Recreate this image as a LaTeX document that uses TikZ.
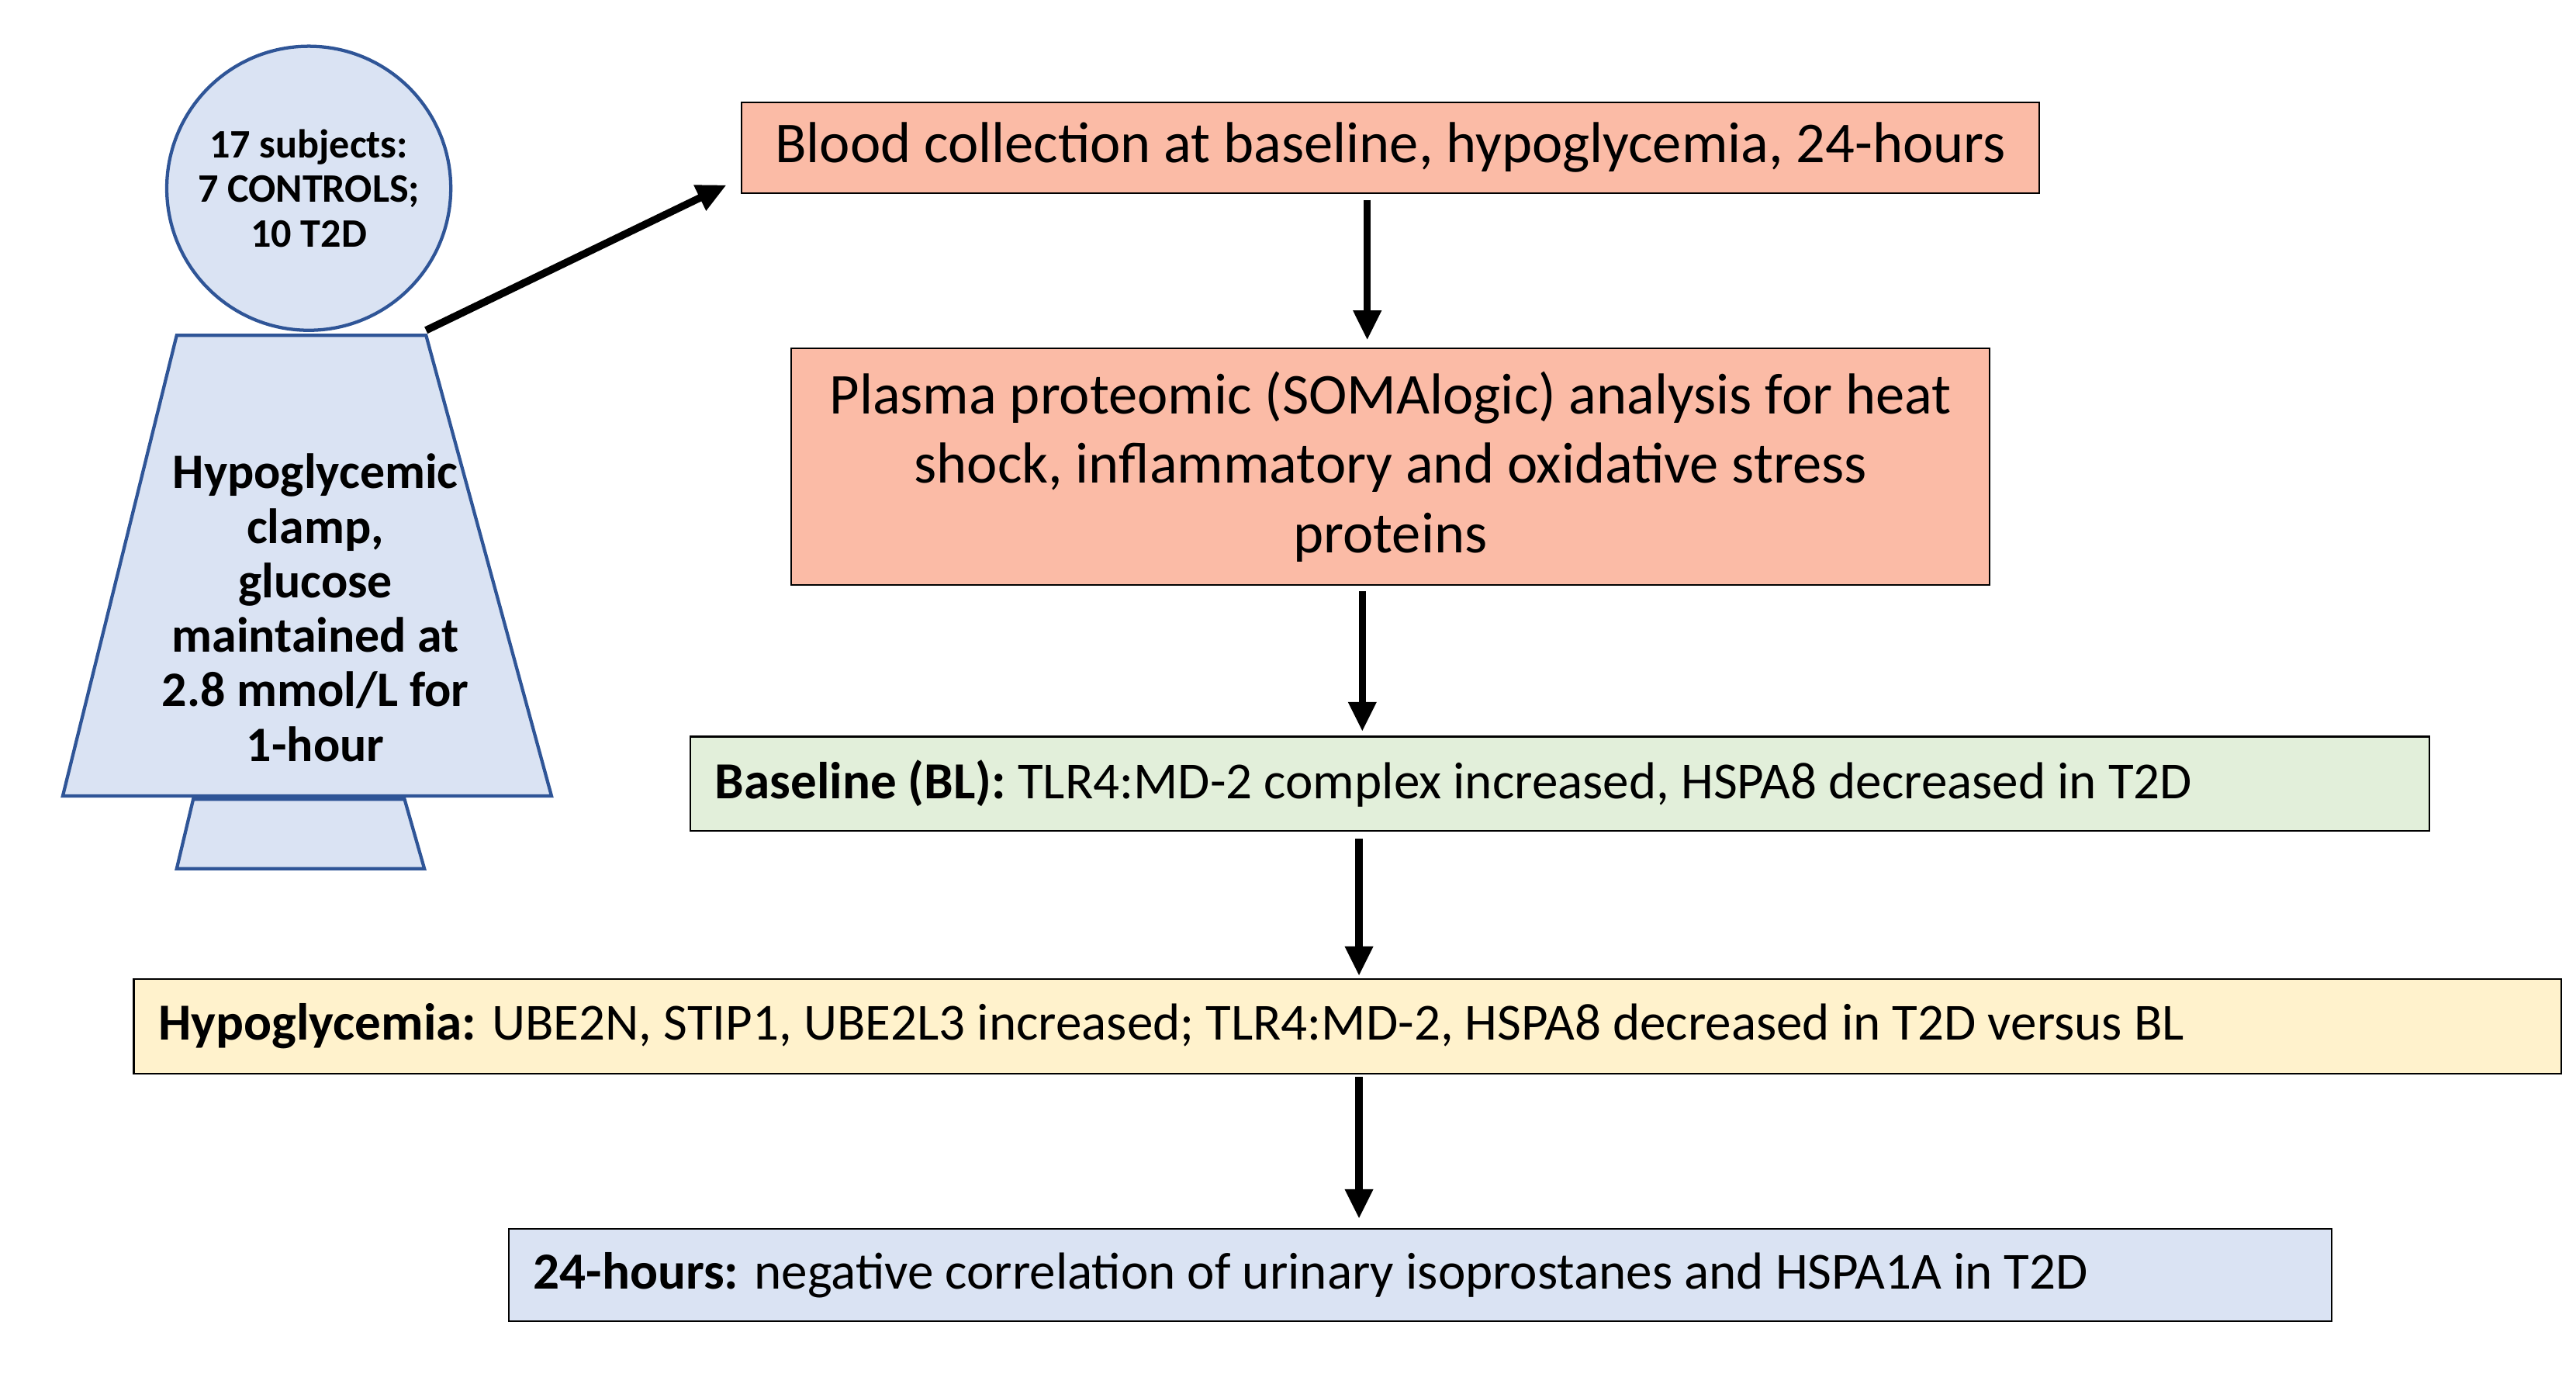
\documentclass[tikz,border=0pt]{standalone}
\usepackage{fontspec}
\setmainfont{Carlito}
\usetikzlibrary{arrows.meta}
\definecolor{salm}{HTML}{FBBBA6}
\definecolor{grn}{HTML}{E2EFDA}
\definecolor{yel}{HTML}{FFF2CC}
\definecolor{lblue}{HTML}{DAE3F3}
\definecolor{edgeb}{HTML}{2F5597}
\tikzset{
  box/.style={draw=black, line width=1pt, inner sep=0pt, font=\fontsize{35}{42}\selectfont},
  lbox/.style={box, font=\fontsize{31.5}{38}\selectfont},
  arr/.style={-{Triangle[length=18pt,width=16pt]}, line width=4.5pt},
}
\newcommand{\lft}[2]{\makebox[#1][l]{\hspace{15pt}#2}}
\begin{document}
\begin{tikzpicture}[x=1pt,y=-1pt]
\useasboundingbox (0,0) rectangle (1560,842);
% person
\draw[edgeb, fill=lblue, line width=2pt] (117,484) -- (245,484) -- (257,526) -- (107,526) -- cycle;
\draw[edgeb, fill=lblue, line width=2pt] (107,203) -- (258,203) -- (334,482) -- (38,482) -- cycle;
\node[circle, draw=edgeb, fill=lblue, line width=2pt, minimum size=172pt, inner sep=0pt,
  align=center, font=\bfseries\fontsize{24.5}{27}\selectfont] (head) at (187,114)
  {17 subjects:\\7 CONTROLS;\\10 T2D};
\node[align=center, font=\bfseries\fontsize{30}{33}\selectfont] (body) at (191,368)
  {Hypoglycemic\\clamp,\\glucose\\maintained at\\2.8 mmol/L for\\1-hour};
\coordinate (shoulder) at (258,200);
% boxes
\node[box, fill=salm, minimum width=786pt, minimum height=55pt] (b1) at (842,89.5)
  {Blood collection at baseline, hypoglycemia, 24-hours};
\node[box, fill=salm, minimum width=726pt, minimum height=143pt, align=center] (b2) at (842,282.5)
  {Plasma proteomic (SOMAlogic) analysis for heat\\shock, inflammatory and oxidative stress\\proteins};
\node[lbox, fill=grn, minimum height=57pt] (b3) at (944.5,474.5)
  {\lft{1053pt}{\textbf{Baseline (BL):} TLR4:MD-2 complex increased, HSPA8 decreased in T2D}};
\node[lbox, fill=yel, minimum height=57pt] (b4) at (816,621.5)
  {\lft{1470pt}{\textbf{Hypoglycemia:} UBE2N, STIP1, UBE2L3 increased; TLR4:MD-2, HSPA8 decreased in T2D versus BL}};
\node[lbox, fill=lblue, minimum height=56pt] (b5) at (860,772)
  {\lft{1104pt}{\textbf{24-hours:} negative correlation of urinary isoprostanes and HSPA1A in T2D}};
% arrows
\draw[arr] (shoulder) -- (440,112);
\draw[arr] (828,121) -- (828,206);
\draw[arr] (825,358) -- (825,443);
\draw[arr] (823,508) -- (823,591);
\draw[arr] (823,652) -- (823,738);
\end{tikzpicture}
\end{document}
